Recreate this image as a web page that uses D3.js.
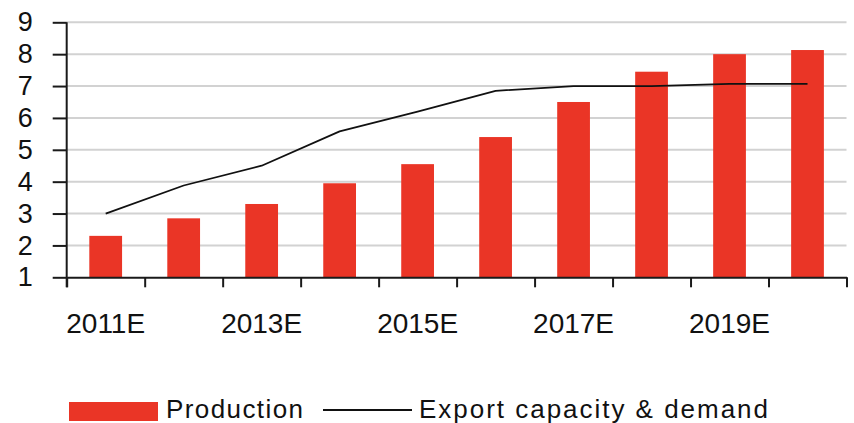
<!DOCTYPE html>
<html>
<head>
<meta charset="utf-8">
<script src="https://cdn.jsdelivr.net/npm/d3@7/dist/d3.min.js"></script>
<style>
  html, body { margin: 0; padding: 0; background: #fff; }
  svg { display: block; font-family: "Liberation Sans", Arial, Helvetica, sans-serif; }
</style>
</head>
<body>
<svg id="chart" width="854" height="423"></svg>
<script>
// Years on the horizontal axis
const years = ["2011E", "2012E", "2013E", "2014E", "2015E", "2016E", "2017E", "2018E", "2019E", "2020E"];
// Year labels that are printed under the axis
const yearLabels = ["2011E", "2013E", "2015E", "2017E", "2019E"];
// Production (bars)
const production = [2.3, 2.85, 3.3, 3.95, 4.55, 5.4, 6.5, 7.45, 8.0, 8.13];
// Export capacity & demand (line)
const exportCapacity = [3.0, 3.88, 4.5, 5.58, 6.2, 6.85, 7.0, 7.0, 7.07, 7.07];
// Value axis ticks
const yTicks = [1, 2, 3, 4, 5, 6, 7, 8, 9];
// Legend entries
const legendNames = ["Production", "Export capacity & demand"];

const svg = d3.select("#chart");
const plotLeft = 66.7, plotRight = 846.5, plotTop = 22.3, plotBottom = 277.3;
const barColor = "#EA3526";

const x = d3.scaleBand().domain(years).range([plotLeft, plotRight])
  .paddingInner(0.58).paddingOuter(0.29);
const slot = d3.scaleLinear().domain([0, years.length]).range([plotLeft, plotRight]);
const y = d3.scaleLinear().domain([1, 9]).range([plotBottom, plotTop]);

// Horizontal gridlines
svg.append("g")
  .selectAll("line")
  .data(yTicks.filter(t => t > 1))
  .join("line")
  .attr("x1", plotLeft).attr("x2", plotRight)
  .attr("y1", d => y(d)).attr("y2", d => y(d))
  .attr("stroke", "#d2d2d2").attr("stroke-width", 2);

// Bars
svg.append("g")
  .selectAll("rect")
  .data(years)
  .join("rect")
  .attr("x", d => x(d))
  .attr("width", x.bandwidth())
  .attr("y", (d, i) => y(production[i]))
  .attr("height", (d, i) => y(1) - y(production[i]))
  .attr("fill", barColor);

// Line series
const line = d3.line()
  .x((d, i) => x(years[i]) + x.bandwidth() / 2)
  .y(d => y(d));
svg.append("path")
  .datum(exportCapacity)
  .attr("d", line)
  .attr("fill", "none")
  .attr("stroke", "#111")
  .attr("stroke-width", 1.8)
  .attr("stroke-linejoin", "round");

// Y axis
const yAxis = svg.append("g")
  .attr("transform", `translate(${plotLeft},0)`)
  .call(d3.axisLeft(y).tickValues(yTicks).tickFormat(d3.format("d"))
    .tickSize(14).tickPadding(20).tickSizeOuter(0));
yAxis.select(".domain").attr("stroke", "#1a1a1a").attr("stroke-width", 2)
  .attr("d", `M0,${plotTop}V${plotBottom + 10}`);
yAxis.selectAll(".tick line").attr("stroke", "#1a1a1a").attr("stroke-width", 2);
yAxis.selectAll(".tick text")
  .attr("font-size", 27).attr("fill", "#111")
  .attr("font-family", "Liberation Sans, Arial, sans-serif");

// X axis: tick marks at category boundaries
const xAxis = svg.append("g")
  .attr("transform", `translate(0,${plotBottom})`)
  .call(d3.axisBottom(slot).tickValues(d3.range(years.length + 1))
    .tickFormat("").tickSize(10).tickSizeOuter(0));
xAxis.select(".domain").attr("stroke", "#1a1a1a").attr("stroke-width", 2);
xAxis.selectAll(".tick line").attr("stroke", "#1a1a1a").attr("stroke-width", 2);

// X axis labels centred under every second bar
svg.append("g")
  .selectAll("text")
  .data(yearLabels)
  .join("text")
  .attr("x", d => x(d) + x.bandwidth() / 2)
  .attr("y", 333)
  .attr("text-anchor", "middle")
  .attr("font-size", 28)
  .attr("fill", "#111")
  .text(d => d);

// Legend
const legend = svg.append("g");
legend.append("rect")
  .attr("x", 69).attr("y", 402).attr("width", 89).attr("height", 19)
  .attr("fill", barColor);
legend.append("text")
  .attr("x", 166).attr("y", 418)
  .attr("font-size", 26).attr("fill", "#111")
  .attr("textLength", 137).attr("lengthAdjust", "spacing")
  .text(legendNames[0]);
legend.append("line")
  .attr("x1", 323).attr("x2", 412).attr("y1", 410).attr("y2", 410)
  .attr("stroke", "#111").attr("stroke-width", 1.8);
legend.append("text")
  .attr("x", 419).attr("y", 418)
  .attr("font-size", 26).attr("fill", "#111")
  .attr("textLength", 349).attr("lengthAdjust", "spacing")
  .text(legendNames[1]);
</script>
</body>
</html>
